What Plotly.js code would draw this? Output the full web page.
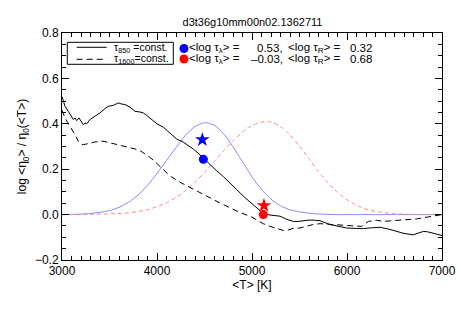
<!DOCTYPE html>
<html>
<head>
<meta charset="utf-8">
<script src="https://cdn.plot.ly/plotly-3.0.1.min.js"></script>
<style>html,body{margin:0;padding:0;background:#fff}#chart{width:458px;height:309px}</style>
</head>
<body>
<div id="chart"></div>
<script>
// ---- data ----
const titleText = "d3t36g10mm00n02.1362711";

const solidT = [3000,3014,3032,3066,3102,3119,3137,3155,3179,3207,3224,3242,3260,3295,3347,3400,3452,3487,3540,3593,3628,3663,3716,3768,3821,3856,3891,3926,3961,4000,4066,4137,4207,4277,4382,4440,4488,4560,4628,4700,4768,4840,4909,4979,5049,5100,5155,5220,5295,5360,5435,5490,5540,5600,5660,5716,5821,5900,5996,6100,6172,6260,6347,6440,6523,6600,6698,6750,6804,6850,6909,7000];
const solidV = [0.52,0.50,0.477,0.455,0.433,0.419,0.426,0.414,0.426,0.41,0.396,0.404,0.40,0.419,0.433,0.448,0.467,0.477,0.481,0.492,0.487,0.485,0.473,0.455,0.452,0.448,0.437,0.426,0.415,0.40,0.385,0.36,0.333,0.319,0.289,0.268,0.248,0.22,0.193,0.167,0.141,0.11,0.081,0.055,0.03,0.012,0.0,-0.003,-0.007,-0.02,-0.03,-0.03,-0.027,-0.024,-0.025,-0.027,-0.044,-0.052,-0.059,-0.061,-0.062,-0.058,-0.056,-0.064,-0.074,-0.083,-0.089,-0.082,-0.074,-0.076,-0.081,-0.092];

const dashT = [3000,3015,3032,3060,3084,3110,3137,3172,3200,3224,3250,3277,3310,3347,3380,3418,3450,3470,3500,3540,3580,3628,3681,3733,3780,3821,3891,3926,3961,4032,4137,4240,4347,4450,4558,4660,4768,4870,4979,5049,5119,5190,5260,5330,5380,5435,5505,5576,5640,5716,5790,5870,5961,6066,6154,6190,6225,6312,6382,6470,6558,6650,6733,6820,6909,7000];
const dashV = [0.46,0.44,0.426,0.405,0.389,0.37,0.352,0.323,0.31,0.308,0.31,0.311,0.316,0.32,0.322,0.323,0.322,0.32,0.318,0.311,0.308,0.304,0.30,0.294,0.288,0.282,0.264,0.252,0.24,0.212,0.17,0.143,0.119,0.096,0.074,0.052,0.03,0.01,-0.007,-0.025,-0.04,-0.052,-0.06,-0.07,-0.068,-0.06,-0.059,-0.052,-0.044,-0.04,-0.042,-0.043,-0.044,-0.048,-0.052,-0.04,-0.03,-0.025,-0.03,-0.027,-0.025,-0.022,-0.019,-0.013,-0.007,0.0];

const gridT = [3000,3100,3200,3300,3400,3500,3600,3700,3800,3900,4000,4100,4200,4300,4400,4500,4600,4700,4800,4900,5000,5100,5200,5300,5400,5500,5600,5700,5800,5900,6000,6100,6200,6300,6400,6500,6600,6700,6800,6900,7000];
const blueV = [0,0.001,0.002,0.005,0.01,0.018,0.032,0.054,0.086,0.129,0.181,0.239,0.295,0.35,0.388,0.405,0.395,0.357,0.299,0.232,0.166,0.111,0.068,0.039,0.021,0.012,0.006,0.003,0.001,0,0,0,0,0,0,0,0,0,0,0,0];
const redV  = [0,0,0.001,0.001,0.002,0.003,0.005,0.008,0.014,0.022,0.035,0.052,0.076,0.106,0.143,0.186,0.232,0.28,0.325,0.364,0.392,0.408,0.408,0.388,0.351,0.302,0.246,0.19,0.14,0.098,0.065,0.041,0.024,0.014,0.008,0.004,0.002,0.001,0,0,0];

const dotT = [4488, 5119];
const dotV = [0.244, 0.0];
const starT = [4477, 5126];
const starV = [0.33, 0.04];
const markColors = ["#0000ff", "#ff0000"];

const legendLeft = ["τ<sub>850</sub> =const.", "τ<sub>1600</sub>=const."];
const logLamVals = ["0.53,", "–0.03,"];
const logRVals = ["0.32", "0.68"];

// ---- layout helpers ----
const L = 62, R = 442, T = 33, B = 260;
const px = x => (x - L) / (R - L);
const py = y => (B - y) / (B - T);
const font = "Liberation Sans, Arial, Helvetica, sans-serif";

const traces = [
  {x: gridT, y: blueV, mode: "lines", line: {color: "#8888ff", width: 1, shape: "spline", smoothing: 0.6}, hoverinfo: "skip"},
  {x: gridT, y: redV, mode: "lines", line: {color: "#ff8888", width: 1, dash: "4px,3px", shape: "spline", smoothing: 0.6}, hoverinfo: "skip"},
  {x: dashT, y: dashV, mode: "lines", line: {color: "#000", width: 1, dash: "6px,4px"}, hoverinfo: "skip"},
  {x: solidT, y: solidV, mode: "lines", line: {color: "#000", width: 1}, hoverinfo: "skip"},
  {x: dotT, y: dotV, mode: "markers", marker: {symbol: "circle", size: 9, color: markColors}, hoverinfo: "skip"},
  {x: starT, y: starV, mode: "markers", marker: {symbol: "star", size: 11, color: markColors}, hoverinfo: "skip"}
];

const rowY = [48, 58.5];
const annotations = [];
const shapes = [
  {type: "rect", xref: "paper", yref: "paper", x0: px(67.3), x1: px(173.3), y0: py(64.3), y1: py(42.3), line: {color: "#000", width: 1}},
  {type: "line", xref: "paper", yref: "paper", x0: px(76.7), x1: px(106.7), y0: py(47.3), y1: py(47.3), line: {color: "#000", width: 1}},
  {type: "line", xref: "paper", yref: "paper", x0: px(76.7), x1: px(106.7), y0: py(59.3), y1: py(59.3), line: {color: "#000", width: 1, dash: "6px,4px"}}
];
for (let i = 0; i < 2; i++) {
  annotations.push({xref: "paper", yref: "paper", x: px(113), y: py(rowY[i]), xanchor: "left", yanchor: "middle", text: legendLeft[i], showarrow: false, borderpad: 0, font: {family: font, size: 10.5, color: "#000"}});
  shapes.push({type: "circle", xref: "paper", yref: "paper", xsizemode: "pixel", ysizemode: "pixel", xanchor: px(184), yanchor: py(rowY[i] + 0.5), x0: -4.5, x1: 4.5, y0: -4.5, y1: 4.5, fillcolor: markColors[i], line: {width: 0}});
  annotations.push({xref: "paper", yref: "paper", x: px(188), y: py(rowY[i]), xanchor: "left", yanchor: "middle", text: "&lt;log τ<sub>λ</sub>&gt; =", showarrow: false, borderpad: 0, font: {family: font, size: 11.5, color: "#000"}});
  annotations.push({xref: "paper", yref: "paper", x: px(284), y: py(rowY[i]), xanchor: "right", yanchor: "middle", text: logLamVals[i], showarrow: false, borderpad: 0, font: {family: font, size: 11.5, color: "#000"}});
  annotations.push({xref: "paper", yref: "paper", x: px(287), y: py(rowY[i]), xanchor: "left", yanchor: "middle", text: "&lt;log τ<sub>R</sub>&gt; =", showarrow: false, borderpad: 0, font: {family: font, size: 11.5, color: "#000"}});
  annotations.push({xref: "paper", yref: "paper", x: px(373), y: py(rowY[i]), xanchor: "right", yanchor: "middle", text: logRVals[i], showarrow: false, borderpad: 0, font: {family: font, size: 11.5, color: "#000"}});
}

const axisCommon = {
  showline: true, mirror: "ticks", linecolor: "#000", linewidth: 1,
  ticks: "inside", ticklen: 7, tickcolor: "#000", tickwidth: 1,
  showgrid: false, zeroline: false,
  tickfont: {family: font, size: 12, color: "#000"}
};

const layout = {
  width: 458, height: 309,
  margin: {l: L, r: 458 - R, t: T, b: 309 - B},
  paper_bgcolor: "#fff", plot_bgcolor: "#fff",
  showlegend: false,
  font: {family: font, color: "#000"},
  title: {text: titleText, font: {family: font, size: 11, color: "#000"}, x: 252.5 / 458, xanchor: "center", y: 1 - 22.5 / 309, yanchor: "middle", yref: "container"},
  xaxis: Object.assign({}, axisCommon, {
    range: [3000, 7000], dtick: 1000, tick0: 3000,
    minor: {dtick: 100, ticklen: 4, ticks: "inside", tickcolor: "#000", showgrid: false},
    title: {text: "&lt;T&gt; [K]", font: {family: font, size: 12, color: "#000"}, standoff: 2}
  }),
  yaxis: Object.assign({}, axisCommon, {
    range: [-0.2, 0.8], dtick: 0.2, tick0: 0, tickformat: ".1f",
    minor: {dtick: 0.05, ticklen: 4, ticks: "inside", tickcolor: "#000", showgrid: false},
    title: {text: "log &lt;η<sub>0</sub>&gt; / η<sub>0</sub>(&lt;T&gt;)", font: {family: font, size: 12, color: "#000"}, standoff: 5}
  }),
  shapes: shapes,
  annotations: annotations
};

Plotly.newPlot("chart", traces, layout, {staticPlot: true, displayModeBar: false});
</script>
</body>
</html>
